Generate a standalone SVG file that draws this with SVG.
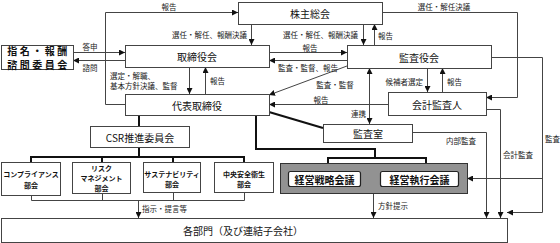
<svg xmlns="http://www.w3.org/2000/svg" width="560" height="243" viewBox="0 0 560 243">
<defs>
<marker id="ar" markerUnits="userSpaceOnUse" markerWidth="6" markerHeight="6" refX="6" refY="3" orient="auto-start-reverse"><path d="M0,0 L6,3 L0,6 z" fill="#111"/></marker>
<style>
.box{fill:#fff;stroke:#444;stroke-width:1}
.t{font-family:"Noto Sans CJK JP","Noto Sans",sans-serif;font-size:10px;fill:#111;text-anchor:middle;dominant-baseline:central}
.s{font-family:"Noto Sans CJK JP","Noto Sans",sans-serif;font-size:7.5px;fill:#222;dominant-baseline:central}
.m{font-family:"Noto Sans CJK JP","Noto Sans",sans-serif;font-size:7px;fill:#111;text-anchor:middle;dominant-baseline:central;font-weight:bold}
.c{fill:none;stroke:#444;stroke-width:1}
.a{marker-end:url(#ar)}
.k{fill:none;stroke:#111;stroke-width:2}
</style>
</defs>
<rect width="560" height="243" fill="#fff"/>

<g id="connectors">
<path class="c a" d="M125,104.5 H105.5 V12.5 H238"/>
<path class="c a" d="M73,52.5 H125"/>
<path class="c a" d="M125,60.5 H73"/>
<path class="c a" d="M251.5,24 V45"/>
<path class="c a" d="M363.5,24 V45"/>
<path class="c a" d="M374.5,45 V24"/>
<path class="c a" d="M269,52.5 H347"/>
<path class="c a" d="M347,60.5 H269"/>
<path class="c a" d="M382,12.5 H517.5 V97.5 H486"/>
<path class="c a" d="M491,57.5 H542.5 V212.5 H507"/>
<path class="c a" d="M542.5,178.5 H467"/>
<path class="c a" d="M427.5,68 V92"/>
<path class="c a" d="M442.5,92 V68"/>
<path class="c a" d="M189.5,67 V94"/>
<path class="c a" d="M205.5,94 V67"/>
<path class="c a" d="M347,66 L269,95"/>
<path class="c a" d="M388,104.5 H269"/>
<path class="c a" d="M369.5,68 V124" marker-start="url(#ar)"/>
<path class="c a" d="M412,132.5 H486.5 V218"/>
<path class="c a" d="M486,109.5 H500.5 V218"/>
<path class="c a" d="M373.5,193 V218"/>
<path class="c" d="M31.5,195 V200.5 H244.5 V193 M102.5,193 V200.5 M173.5,193 V200.5"/>
<path class="c a" d="M138.5,200.5 V218"/>
<path class="k" d="M139,115 V126"/>
<path class="k" d="M139,147 V157 M31,162 V157 H244 V162 M102,157 V162 M173,157 V162"/>
<path class="k" d="M269,112 L323,128"/>
<path class="k" d="M256,115 V149 H375 V158 M328,163 V158 H426 V163"/>
</g>

<g id="labels">
<text class="s" x="169" y="6" text-anchor="middle">報告</text>
<text class="s" x="90" y="46" text-anchor="middle">答申</text>
<text class="s" x="90" y="67" text-anchor="middle">諮問</text>
<text class="s" x="247" y="34" text-anchor="end">選任・解任、報酬決議</text>
<text class="s" x="358" y="34" text-anchor="end">選任・解任、報酬決議</text>
<text class="s" x="378" y="35">報告</text>
<text class="s" x="310" y="47" text-anchor="middle">報告</text>
<text class="s" x="308" y="67" text-anchor="middle">監査・監督、報告</text>
<text class="s" x="444" y="6" text-anchor="middle">選任・解任決議</text>
<text class="s" x="545" y="138">監査</text>
<text class="s" x="423" y="81" text-anchor="end">候補者選定</text>
<text class="s" x="447" y="81">報告</text>
<text class="s" x="110" y="75">選定・解職、</text>
<text class="s" x="110" y="85">基本方針決議、監督</text>
<text class="s" x="210" y="80">報告</text>
<text class="s" x="335" y="84" text-anchor="middle">監査・監督</text>
<text class="s" x="321" y="99" text-anchor="middle">報告</text>
<text class="s" x="366" y="113" text-anchor="end">連携</text>
<text class="s" x="461" y="140" text-anchor="middle">内部監査</text>
<text class="s" x="503" y="154">会計監査</text>
<text class="s" x="378" y="205">方針提示</text>
<text class="s" x="142" y="208">指示・提言等</text>
</g>

<g id="n-kabunushi"><rect class="box" x="238.5" y="2.5" width="144" height="22"/><text class="t" x="310" y="13.5">株主総会</text></g>
<g id="n-shimei"><rect class="box" x="1.5" y="45.5" width="72" height="24"/><text class="t" x="38.5" y="50.5" font-weight="bold" font-size="7.5" letter-spacing="2.5">指名・報酬</text><text class="t" x="38.5" y="64.5" font-weight="bold" font-size="7.5" letter-spacing="2.5">諮問委員会</text></g>
<g id="n-torishimariyakukai"><rect class="box" x="125.5" y="45.5" width="144" height="22"/><text class="t" x="197" y="56.5">取締役会</text></g>
<g id="n-kansayakukai"><rect class="box" x="347.5" y="45.5" width="144" height="23"/><text class="t" x="419" y="57">監査役会</text></g>
<g id="n-daihyo"><rect class="box" x="125.5" y="94.5" width="144" height="21"/><text class="t" x="197" y="105">代表取締役</text></g>
<g id="n-kaikei"><rect class="box" x="388.5" y="92.5" width="98" height="23"/><text class="t" x="437" y="104">会計監査人</text></g>
<g id="n-kansashitsu"><rect class="box" x="323.5" y="124.5" width="89" height="18"/><text class="t" x="368" y="133.5">監査室</text></g>
<g id="n-csr"><rect class="box" x="90.5" y="126.5" width="99" height="21"/><text class="t" x="140" y="137">CSR推進委員会</text></g>
<g id="n-comp"><rect class="box" x="1.5" y="162.5" width="59" height="33"/><text class="m" x="31" y="174">コンプライアンス</text><text class="m" x="31" y="185">部会</text></g>
<g id="n-risk"><rect class="box" x="72.5" y="162.5" width="58" height="31"/><text class="m" x="101.5" y="168">リスク</text><text class="m" x="101.5" y="178">マネジメント</text><text class="m" x="101.5" y="188">部会</text></g>
<g id="n-sust"><rect class="box" x="143.5" y="162.5" width="57" height="30"/><text class="m" x="172" y="173.5">サステナビリティ</text><text class="m" x="172" y="184">部会</text></g>
<g id="n-anzen"><rect class="box" x="214.5" y="162.5" width="59" height="30"/><text class="m" x="244" y="173.5">中央安全衛生</text><text class="m" x="244" y="184">部会</text></g>
<g id="n-kaigi">
<rect x="280.5" y="163.5" width="187" height="30" fill="#929292" stroke="#333" stroke-width="1"/>
<rect x="288.5" y="171.5" width="72" height="15" rx="2" fill="#fff" stroke="#222" stroke-width="1.2"/>
<text class="t" x="324.5" y="179" font-weight="bold" font-size="9.5">経営戦略会議</text>
<rect x="380.5" y="171.5" width="78" height="15" rx="2" fill="#fff" stroke="#222" stroke-width="1.2"/>
<text class="t" x="419.5" y="179" font-weight="bold" font-size="9.5">経営執行会議</text>
</g>
<g id="n-kakubumon"><rect class="box" x="1.5" y="218.5" width="506" height="24"/><text class="t" x="243" y="230.5" font-size="8.5">各部門（及び連結子会社）</text></g>
</svg>
